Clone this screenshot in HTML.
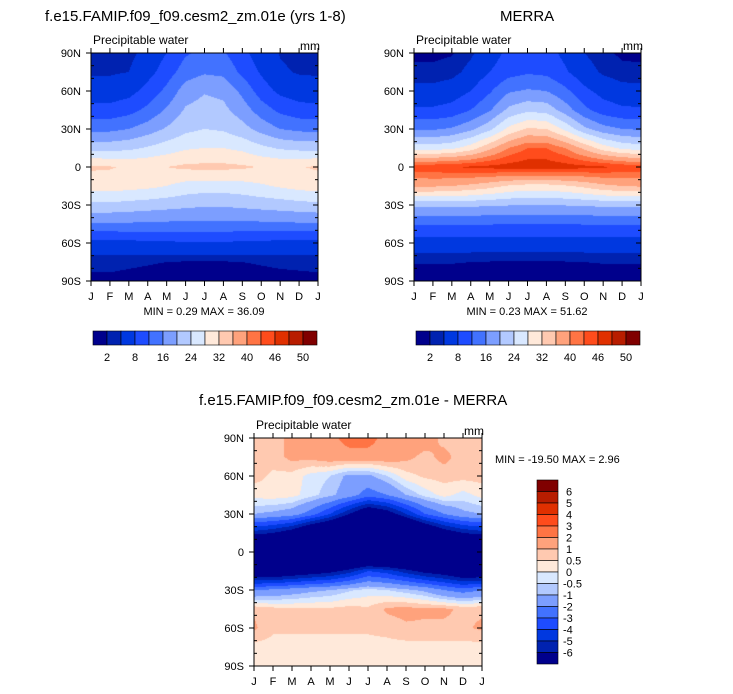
<!DOCTYPE html>
<html><head><meta charset="utf-8">
<style>
body{margin:0;background:#fff;width:733px;height:694px;position:relative;overflow:hidden;font-family:"Liberation Sans",Arial,sans-serif;}
.t{position:absolute;white-space:nowrap;color:#000;}
canvas{position:absolute;}
svg{position:absolute;left:0;top:0;}
</style></head><body>
<div class="t" style="left:45px;top:8px;font-size:15px;">f.e15.FAMIP.f09_f09.cesm2_zm.01e (yrs 1-8)</div>
<div class="t" style="left:500px;top:8px;font-size:15px;">MERRA</div>
<div class="t" style="left:199px;top:392px;font-size:15px;">f.e15.FAMIP.f09_f09.cesm2_zm.01e - MERRA</div>
<canvas id="c1" width="227" height="228" style="left:91px;top:53px"></canvas>
<canvas id="c2" width="227" height="228" style="left:414px;top:53px"></canvas>
<canvas id="c3" width="228" height="228" style="left:254px;top:438px"></canvas>
<svg id="s" width="733" height="694"></svg>
<script>
const months=["J","F","M","A","M","J","J","A","S","O","N","D","J"];
const latLabels=["90N","60N","30N","0","30S","60S","90S"];
const lats=[90,75,60,45,30,15,0,-15,-30,-45,-60,-75,-90];
const modelPW=[
[3,3,3.2,5,8,11.5,13,12.5,9,6,3.8,3.1,3],
[3.6,3.6,4,6.5,10,14,15.5,15,11,7.5,4.5,3.7,3.6],
[5.5,5.6,6.5,9.5,13,18,19.7,19,15,10,7,5.8,5.5],
[9.3,9.4,10.5,13,16.5,20.5,21.5,21,18,14,11,9.6,9.3],
[14.8,15,16,18,20.5,23,24,23.5,21.5,18.5,16,15,14.8],
[22.7,22.5,23,24.5,26,27.5,28,28,27,25,23.5,22.8,22.7],
[32.5,32.3,31.5,31.5,32,32.8,33,33,32.6,31.8,31.5,31.8,32.5],
[30,30,29.5,29,28,26.5,26,26,26.5,27.5,28.5,29.5,30],
[23,23,22.5,22,21.5,21,20.5,20.5,21,21.5,22,22.5,23],
[15.5,15.5,15.5,15.3,15.2,15,15,15,15,15.2,15.3,15.5,15.5],
[6.5,6.5,6.8,7,7.3,7.5,7.5,7.5,7.3,7,6.8,6.6,6.5],
[2.6,2.6,2.4,2.2,2,1.8,1.8,1.8,2,2.2,2.4,2.5,2.6],
[1.5,1.5,1.3,1.1,0.9,0.8,0.8,0.8,0.9,1.1,1.3,1.4,1.5]];
const merraPW=[
[1.5,1.5,1.8,3.5,6,9,10,9.5,7,4,2.5,1.6,1.5],
[2.5,2.5,3,5,8,10.5,11.5,11,8.5,5.5,3.5,2.6,2.5],
[5,5,5.8,8,11.5,15.5,16.5,16,13,9,6.5,5.2,5],
[8.5,8.6,9.5,12,15.5,21,23,22.5,18,13,10,8.8,8.5],
[15.5,15.5,16.5,19,23,29,32.5,32,27,21,17.5,16,15.5],
[26,26,27,30,35,40,43,43,40,35,30,27,26],
[45,45.5,46,46.5,47,47.5,48,48,47.5,47,46.5,45.5,45],
[36.5,36.5,36,35,33.5,31.5,30.5,30.5,31.5,33,35,36,36.5],
[21,21,21,20.8,20.5,20.2,20,20,20.2,20.5,20.8,21,21],
[12.5,12.5,12.4,12.3,12.2,12,12,12,12,12.2,12.3,12.4,12.5],
[6,6,6,6,6,6,6,6,6,6,6,6,6],
[2.1,2.1,2.1,2,1.9,1.7,1.7,1.7,1.9,2,2.1,2.1,2.1],
[1,1,1,1,1,1,1,1,1,1,1,1,1]];
const diffPW=[
[0.7,0.7,1.2,1.5,1.6,2.5,2.5,1.5,1.5,1.4,0.8,0.7,0.7],
[0.7,0.7,1.2,1.2,1.5,1.5,1.5,1.5,1.2,0.8,1.2,0.7,0.7],
[0.7,0.4,0.3,-0.2,-0.5,-1.2,-1.2,-0.5,0.3,0.6,0.7,0.7,0.7],
[0.2,0.3,0.2,-0.3,-0.8,-1.5,-2.5,-2,-1,-0.3,0.2,-0.2,0.2],
[-1,-1.2,-1.5,-2.5,-4,-6,-8,-7,-5,-3,-2,-1.2,-1],
[-5.5,-6,-7,-9,-10,-11,-12,-12,-11,-9,-7,-6,-5.5],
[-12,-12,-12,-12,-12,-12,-12,-12,-12,-12,-12,-12,-12],
[-8,-8,-7.5,-7,-6.5,-5.5,-4,-4.5,-5.5,-6.5,-7,-8,-8],
[-2,-1.8,-1.5,-1.2,-1,-0.6,-0.3,-0.5,-0.8,-1.2,-2,-2.5,-2],
[0.9,0.7,0.6,0.6,0.6,0.7,0.6,1.1,1.2,1.1,1.1,0.9,0.9],
[1.1,0.6,0.6,0.6,0.6,0.6,0.6,0.7,0.9,0.9,0.9,0.9,1.1],
[0.3,0.3,0.3,0.3,0.3,0.3,0.3,0.3,0.3,0.3,0.3,0.3,0.3],
[0.3,0.3,0.3,0.3,0.3,0.3,0.3,0.3,0.3,0.3,0.3,0.3,0.3]];
const pwLevels=[2,4,8,12,16,20,24,28,32,36,40,43,46,48,50];
const pwTickLabels=["2","8","16","24","32","40","46","50"];
const diffLevels=[-6,-5,-4,-3,-2,-1,-0.5,0,0.5,1,2,3,4,5,6];
const diffTickLabels=["6","5","4","3","2","1","0.5","0","-0.5","-1","-2","-3","-4","-5","-6"];
const palette=["#00008c","#0022b0","#0038e0","#1e4cff","#4272ff","#7c9eff","#b2c9ff","#d9e8ff","#ffe9da","#ffc9b0","#ffa27c","#ff7444","#ff4c1c","#e03000","#b81d00","#800000"];
const NS="http://www.w3.org/2000/svg";
const svg=document.getElementById('s');
function el(tag,attrs,parent){const e=document.createElementNS(NS,tag);for(const k in attrs)e.setAttribute(k,attrs[k]);(parent||svg).appendChild(e);return e;}
function level(v,lv){let i=0;while(i<lv.length&&v>=lv[i])i++;return i;}
function sample(grid,lat,m){
  let r=(90-lat)/15; let r0=Math.min(Math.floor(r),lats.length-2); let fr=r-r0;
  let c0=Math.min(Math.floor(m),months.length-2); let fc=m-c0;
  const a=grid[r0][c0],b=grid[r0][c0+1],c=grid[r0+1][c0],d=grid[r0+1][c0+1];
  return (a*(1-fc)+b*fc)*(1-fr)+(c*(1-fc)+d*fc)*fr;
}
function draw(id,grid,lv){
  const cv=document.getElementById(id),ctx=cv.getContext('2d');
  const W=cv.width,H=cv.height;
  for(let y=0;y<H;y++)for(let x=0;x<W;x++){
    const lat=90-180*(y+0.5)/H, m=12*(x+0.5)/W;
    ctx.fillStyle=palette[level(sample(grid,lat,m),lv)];ctx.fillRect(x,y,1,1);
  }
}
draw('c1',modelPW,pwLevels);
draw('c2',merraPW,pwLevels);
draw('c3',diffPW,diffLevels);

function axes(x0,y0,w,h,name){
  const g=el('g',{});
  
  
  el('rect',{x:x0,y:y0,width:w,height:h,fill:'none',stroke:'#000','stroke-width':1},g);
  months.forEach((mn,i)=>{
    const x=x0+w*i/12;
    el('line',{x1:x,y1:y0,x2:x,y2:y0-5,stroke:'#000'},g);
    el('line',{x1:x,y1:y0+h,x2:x,y2:y0+h+5,stroke:'#000'},g);
    const t=el('text',{x:x,y:y0+h+19,'text-anchor':'middle','font-size':11},g);t.textContent=mn;
    
  });
  for(let k=0;k<=18;k++){
    const y=y0+h*k/18, major=k%3==0;
    el('line',{x1:x0,y1:y,x2:x0-(major?5:0),y2:y,stroke:'#000'},g);
    if(!major){el('line',{x1:x0,y1:y,x2:x0+3,y2:y,stroke:'#000'},g);}
    el('line',{x1:x0+w,y1:y,x2:x0+w-(major?5:3),y2:y,stroke:'#000'},g);
    if(major){const t=el('text',{x:x0-10,y:y+4,'text-anchor':'end','font-size':11},g);t.textContent=latLabels[k/3];
      }
  }
  const a=el('text',{x:x0+2,y:y0-9,'font-size':12},g);a.textContent='Precipitable water';
  
  const u=el('text',{x:x0+w-18,y:y0-3,'font-size':12},g);u.textContent='mm';
  
}
axes(91,53,227,228,'model');
axes(414,53,227,228,'merra');
axes(254,438,228,228,'difference');

function txt(x,y,s,name,anchor){const t=el('text',{x:x,y:y,'font-size':11,'text-anchor':anchor||'start'});t.textContent=s;}
txt(204,315,'MIN =  0.29 MAX = 36.09','model-min-max','middle');
txt(527,315,'MIN =  0.23 MAX = 51.62','merra-min-max','middle');
txt(495,463,'MIN = -19.50 MAX =   2.96','difference-min-max');

function hbar(x0,y0,name){
  const g=el('g',{});
  const bw=14;
  palette.forEach((c,i)=>{
    const r=el('rect',{x:x0+i*bw,y:y0,width:bw,height:14,fill:c,stroke:'#000','stroke-width':0.6},g);
    
  });
  pwTickLabels.forEach((s,j)=>{
    const t=el('text',{x:x0+bw*(1+2*j),y:y0+30,'text-anchor':'middle','font-size':11},g);t.textContent=s;
    
  });
}
hbar(93,331,'model-colorbar');
hbar(416,331,'merra-colorbar');
(function(){
  const g=el('g',{});
  const x0=537,y0=480,bh=11.5;
  for(let i=0;i<palette.length;i++){
    const r=el('rect',{x:x0,y:y0+i*bh,width:21,height:bh,fill:palette[palette.length-1-i],stroke:'#000','stroke-width':0.6},g);
    
  }
  diffTickLabels.forEach((s,j)=>{
    const t=el('text',{x:s.startsWith('-')?563:566,y:y0+bh*(j+1)+4,'font-size':11},g);t.textContent=s;
    
  });
})();
</script>
</body></html>
